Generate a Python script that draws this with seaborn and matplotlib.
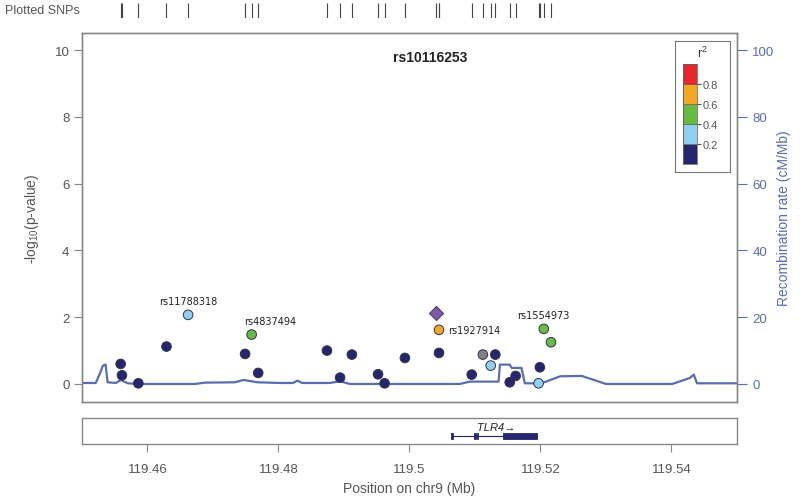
import numpy as np
import pandas as pd
import seaborn as sns
import matplotlib.pyplot as plt
from matplotlib.patches import Rectangle

# SNPs (position in Mb, -log10 p, r2 with lead SNP; nan = no LD info)
snp_pos = [119.4559, 119.4561, 119.4586, 119.4629, 119.4662, 119.4749, 119.4759,
           119.4769, 119.4874, 119.4894, 119.4912, 119.4952, 119.4962, 119.4993,
           119.5045, 119.5045, 119.5095, 119.5112, 119.5131, 119.5124, 119.5162,
           119.5153, 119.5199, 119.5197, 119.5205, 119.5216]
snp_logp = [0.60, 0.26, 0.02, 1.12, 2.07, 0.90, 1.48,
            0.33, 1.00, 0.19, 0.88, 0.29, 0.02, 0.78,
            1.62, 0.93, 0.28, 0.88, 0.88, 0.55, 0.24,
            0.05, 0.50, 0.02, 1.65, 1.25]
snp_r2 = [0.1, 0.1, 0.1, 0.1, 0.3, 0.1, 0.5,
          0.1, 0.1, 0.1, 0.1, 0.1, 0.1, 0.1,
          0.7, 0.1, 0.1, np.nan, 0.1, 0.3, 0.1,
          0.1, 0.1, 0.3, 0.5, 0.5]

lead_name = 'rs10116253'
lead_pos = 119.5040
lead_logp = 2.12

label_names = ['rs11788318', 'rs4837494', 'rs1927914', 'rs1554973']
label_pos = [119.4662, 119.4759, 119.5045, 119.5205]
label_logp = [2.07, 1.48, 1.62, 1.65]

# recombination rate (cM/Mb)
rec_pos = [119.4500, 119.4521, 119.4527, 119.4532, 119.4536, 119.4539, 119.4552,
           119.4559, 119.4570, 119.4588, 119.4672, 119.4688, 119.4733, 119.4747,
           119.4768, 119.4802, 119.4822, 119.4829, 119.4836, 119.4878, 119.4894,
           119.4909, 119.5077, 119.5092, 119.5136, 119.5138, 119.5153, 119.5156,
           119.5171, 119.5176, 119.5195, 119.5207, 119.5230, 119.5263, 119.5300,
           119.5401, 119.5428, 119.5434, 119.5439, 119.5500]
rec_rate = [0.3, 0.3, 3.0, 5.5, 5.8, 0.5, 0.3,
            1.2, 0.2, 0.0, 0.0, 0.4, 0.5, 1.2,
            0.5, 0.3, 0.3, 1.0, 0.3, 0.3, 0.8,
            0.0, 0.0, 0.7, 0.7, 5.8, 5.8, 4.8,
            4.8, 0.2, 0.2, 0.6, 2.3, 2.4, 0.0,
            0.0, 1.8, 2.8, 0.2, 0.2]

gene_name = 'TLR4'
gene_start, gene_end = 119.5065, 119.5195
exon_start = [119.5063, 119.5099, 119.5103, 119.5143]
exon_end = [119.5067, 119.5101, 119.5105, 119.5195]

r2_bins = [0, 0.2, 0.4, 0.6, 0.8, 1.0]
r2_colors = ['#26266e', '#8fd0f0', '#66bb44', '#f5a623', '#e8262a']
xticks = [119.46, 119.48, 119.50, 119.52, 119.54]
xtick_labels = ['119.46', '119.48', '119.5', '119.52', '119.54']

sns.set_style('white')
plt.rcParams['font.family'] = ['Liberation Sans', 'DejaVu Sans']
plt.rcParams['mathtext.default'] = 'regular'
grey = '#555555'
rec_col = '#5b6db2'

df = pd.DataFrame({'pos': snp_pos, 'logp': snp_logp, 'r2': snp_r2})
df['bin'] = pd.cut(df['r2'], r2_bins, labels=False)
df['bin'] = df['bin'].fillna(-1).astype(int)
df = df.sort_values('bin')
palette = {-1: '#808080'}
palette.update({i: c for i, c in enumerate(r2_colors)})

fig = plt.figure(figsize=(8, 5.02), dpi=100)
xlim = (119.45, 119.55)

ax = fig.add_axes([82/800, 1-403/502, 655/800, 369/502])
ax2 = ax.twinx()
ax.set_zorder(ax2.get_zorder() + 1)
ax.patch.set_visible(False)

rec = pd.DataFrame({'pos': rec_pos, 'rate': rec_rate})
sns.lineplot(data=rec, x='pos', y='rate', ax=ax2, color=rec_col, lw=1.6, sort=False)
ax2.set_ylim(-5.4, 105.1)
ax2.set_yticks(range(0, 101, 20))
ax2.set_ylabel('Recombination rate (cM/Mb)', color=rec_col, fontsize=10, labelpad=2)
ax2.tick_params(axis='y', colors=rec_col, labelcolor=rec_col, labelsize=9.5,
                direction='out', length=7, pad=4, right=True)

sns.scatterplot(data=df, x='pos', y='logp', hue='bin', palette=palette, ax=ax,
                s=48, edgecolor='#33334d', linewidth=0.7, legend=False, zorder=3)
sns.scatterplot(x=[lead_pos], y=[lead_logp], marker='D', color='#7d5aa6', s=52,
                edgecolor='#4a3366', linewidth=0.7, ax=ax, zorder=4)

offsets = [(0, 9, 'center', 'bottom'), (-8, 9, 'left', 'bottom'),
           (9, 0, 'left', 'center'), (0, 9, 'center', 'bottom')]
for name, px, py, (dx, dy, ha, va) in zip(label_names, label_pos, label_logp, offsets):
    ax.annotate(name, (px, py), xytext=(dx, dy), textcoords='offset pixels',
                ha=ha, va=va, fontsize=7, family='DejaVu Sans', color='#222222')

ax.text(0.531, 0.935, lead_name, transform=ax.transAxes, ha='center', va='center',
        fontsize=10, fontweight='bold', color='#222222')

ax.set_xlim(xlim)
ax2.set_xlim(xlim)
ax.set_ylim(-0.54, 10.51)
ax.set_yticks(range(0, 11, 2))
ax.set_xticks([])
ax.set_xlabel('')
ax.set_ylabel('-log$_{10}$(p-value)', color=grey, fontsize=10, labelpad=10)
ax.tick_params(axis='y', colors='#888888', labelcolor=grey, labelsize=9.5,
               direction='out', length=6, pad=3, left=True)
for a in (ax, ax2):
    for sp in a.spines.values():
        sp.set_color('#888888')
        sp.set_linewidth(1)

# r2 legend
lbox = fig.add_axes([675/800, 1-173/502, 55/800, 131/502])
lbox.set_xticks([])
lbox.set_yticks([])
for sp in lbox.spines.values():
    sp.set_color('#777777')
    sp.set_linewidth(0.8)
lbox.text(0.5, 0.91, 'r$^2$', transform=lbox.transAxes, ha='center', va='center',
          fontsize=9, color='#333333')
cax = fig.add_axes([683/800, 1-165/502, 14/800, 100/502])
for lo, hi, c in zip(r2_bins[:-1], r2_bins[1:], r2_colors):
    cax.add_patch(Rectangle((0, lo), 1, hi - lo, facecolor=c, edgecolor='#555555', lw=0.4))
cax.set_xlim(0, 1)
cax.set_ylim(0, 1)
cax.set_xticks([])
cax.set_yticks(r2_bins[1:-1])
cax.set_yticklabels(['0.2', '0.4', '0.6', '0.8'])
cax.yaxis.tick_right()
cax.tick_params(axis='y', colors='#555555', labelsize=8, length=3, pad=1, direction='out')
for sp in cax.spines.values():
    sp.set_color('#555555')
    sp.set_linewidth(0.5)

# plotted SNPs strip
sax = fig.add_axes([82/800, 1-19/502, 655/800, 15/502])
sax.vlines(snp_pos + [lead_pos], 0, 1, color='#444444', lw=0.8)
sax.set_xlim(xlim)
sax.set_ylim(0, 1)
sax.axis('off')
fig.text(5/800, 1-11/502, 'Plotted SNPs', ha='left', va='center', fontsize=9, color=grey)

# gene panel
gax = fig.add_axes([82/800, 1-445/502, 655/800, 26/502])
gax.plot([gene_start, gene_end], [0.31, 0.31], color='#26266e', lw=0.8)
for s, e in zip(exon_start, exon_end):
    gax.add_patch(Rectangle((s, 0.19), e - s, 0.23, facecolor='#26266e', edgecolor='#26266e', lw=0.6))
gax.text((gene_start + gene_end) / 2 + 0.0003, 0.64, gene_name + '\u2192', ha='center', va='center',
         fontsize=8, style='italic', color='#222222')
gax.set_xlim(xlim)
gax.set_ylim(0, 1)
gax.set_yticks([])
gax.set_xticks(xticks)
gax.set_xticklabels(xtick_labels)
gax.tick_params(axis='x', colors='#888888', labelcolor=grey, labelsize=9.5,
                direction='out', length=6, pad=8, bottom=True)
gax.set_xlabel('Position on chr9 (Mb)', color=grey, fontsize=10, labelpad=4)
for sp in gax.spines.values():
    sp.set_color('#888888')
    sp.set_linewidth(1)

fig.savefig('out.png', dpi=100)
